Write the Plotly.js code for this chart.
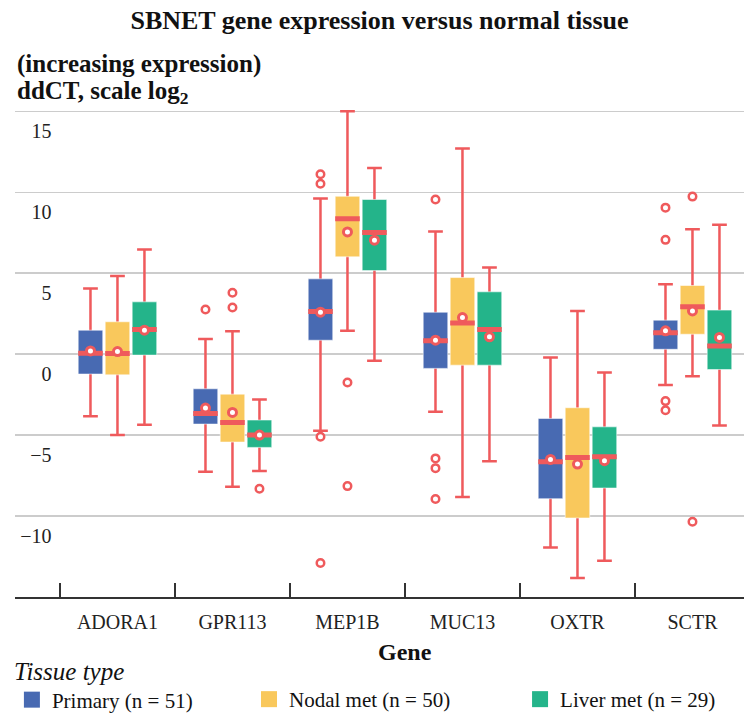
<!DOCTYPE html>
<html>
<head>
<meta charset="utf-8">
<script src="https://cdn.plot.ly/plotly-3.0.1.min.js"></script>
<style>html,body{margin:0;padding:0;background:#fff;}#chart{width:744px;height:720px;}</style>
</head>
<body>
<div id="chart"></div>
<script>
// ---- data ----
const genes = ['ADORA1', 'GPR113', 'MEP1B', 'MUC13', 'OXTR', 'SCTR'];
const tissueNames = ['Primary (n = 51)', 'Nodal met (n = 50)', 'Liver met (n = 29)'];

// Primary
const primaryLower  = [-3.83, -7.26, -4.73, -3.56, -11.95, -1.91];
const primaryQ1     = [-1.23, -4.32,  0.86, -0.88,  -8.93,  0.30];
const primaryMedian = [ 0.05, -3.66,  2.63,  0.82,  -6.65,  1.32];
const primaryQ3     = [ 1.48, -2.14,  4.65,  2.59,  -3.97,  2.10];
const primaryUpper  = [ 4.06,  0.93,  9.61,  7.57,  -0.20,  4.32];
const primaryMean   = [ 0.20, -3.33,  2.59,  0.86,  -6.50,  1.44];
const primaryOutGene  = ['GPR113', 'MEP1B', 'MEP1B', 'MEP1B', 'MEP1B', 'MUC13', 'MUC13', 'MUC13', 'MUC13', 'SCTR', 'SCTR', 'SCTR', 'SCTR'];
const primaryOutValue = [2.76, 11.11, 10.53, -5.10, -12.90, 9.55, -6.44, -7.04, -8.95, 9.05, 7.06, -2.90, -3.46];

// Nodal met
const nodalLower  = [-5.00, -8.19,  1.44, -8.83, -13.83, -1.36];
const nodalQ1     = [-1.28, -5.43,  6.01, -0.68, -10.12,  1.23];
const nodalMedian = [ 0.04, -4.22,  8.37,  1.93,  -6.38,  2.92];
const nodalQ3     = [ 2.00, -2.47,  9.75,  4.73,  -3.31,  4.24];
const nodalUpper  = [ 4.83,  1.42, 15.00, 12.70,   2.67,  7.72];
const nodalMean   = [ 0.16, -3.60,  7.55,  2.26,  -6.79,  2.67];
const nodalOutGene  = ['GPR113', 'GPR113', 'MEP1B', 'MEP1B', 'SCTR', 'SCTR'];
const nodalOutValue = [3.79, 2.88, -1.75, -8.15, 9.73, -10.35];

// Liver met
const liverLower  = [-4.36, -7.22, -0.41, -6.62, -12.76, -4.40];
const liverQ1     = [-0.06, -5.76,  5.16, -0.68,  -8.27, -0.95];
const liverMedian = [ 1.52, -5.00,  7.51,  1.52,  -6.34,  0.51];
const liverQ3     = [ 3.23, -4.07,  9.55,  3.85,  -4.49,  2.72];
const liverUpper  = [ 6.46, -2.80, 11.50,  5.35,  -1.13,  8.00];
const liverMean   = [ 1.48, -5.00,  7.04,  1.07,  -6.58,  1.03];
const liverOutGene  = ['GPR113'];
const liverOutValue = [-8.31];

const yTicks = [-10, -5, 0, 5, 10, 15];

// ---- styling ----
const colors = ['#486AB2', '#F9C85C', '#24B48A'];
const red = '#EF5A5C';
const serif = 'Liberation Serif, Times New Roman, serif';

const groups = [
  {name: tissueNames[0], color: colors[0], lo: primaryLower, q1: primaryQ1, med: primaryMedian, q3: primaryQ3, hi: primaryUpper, mean: primaryMean, og: primaryOutGene, ov: primaryOutValue},
  {name: tissueNames[1], color: colors[1], lo: nodalLower, q1: nodalQ1, med: nodalMedian, q3: nodalQ3, hi: nodalUpper, mean: nodalMean, og: nodalOutGene, ov: nodalOutValue},
  {name: tissueNames[2], color: colors[2], lo: liverLower, q1: liverQ1, med: liverMedian, q3: liverQ3, hi: liverUpper, mean: liverMean, og: liverOutGene, ov: liverOutValue}
];

const traces = [];
// whiskers (drawn from median out to fences, inner part hidden by box body)
groups.forEach((g, i) => {
  traces.push({
    type: 'box', x: genes, q1: g.med, median: g.med, q3: g.med,
    lowerfence: g.lo, upperfence: g.hi,
    offsetgroup: 'g' + i, showlegend: false, hoverinfo: 'skip',
    fillcolor: 'rgba(0,0,0,0)', line: {color: red, width: 2.5}, whiskerwidth: 0.6
  });
});
// box bodies
groups.forEach((g, i) => {
  traces.push({
    type: 'box', x: genes, q1: g.q1, median: g.med, q3: g.q3,
    lowerfence: g.q1, upperfence: g.q3,
    offsetgroup: 'g' + i, showlegend: false, hoverinfo: 'skip',
    fillcolor: g.color, line: {color: 'rgba(255,255,255,0.55)', width: 1}, whiskerwidth: 0
  });
});
// medians
groups.forEach((g, i) => {
  traces.push({
    type: 'box', x: genes, q1: g.med, median: g.med, q3: g.med,
    lowerfence: g.med, upperfence: g.med,
    offsetgroup: 'g' + i, showlegend: false, hoverinfo: 'skip',
    fillcolor: 'rgba(0,0,0,0)', line: {color: red, width: 5}, whiskerwidth: 0
  });
});
// outliers
groups.forEach((g, i) => {
  traces.push({
    type: 'box', x: g.og, y: g.ov, boxpoints: 'all', jitter: 0, pointpos: 0,
    offsetgroup: 'g' + i, showlegend: false, hoverinfo: 'skip',
    fillcolor: 'rgba(0,0,0,0)', line: {color: 'rgba(0,0,0,0)', width: 0},
    marker: {symbol: 'circle', size: 7.5, color: '#ffffff', line: {color: red, width: 2.5}}
  });
});
// means
groups.forEach((g, i) => {
  traces.push({
    type: 'box', x: genes, y: g.mean, boxpoints: 'all', jitter: 0, pointpos: 0,
    offsetgroup: 'g' + i, showlegend: false, hoverinfo: 'skip',
    fillcolor: 'rgba(0,0,0,0)', line: {color: 'rgba(0,0,0,0)', width: 0},
    marker: {symbol: 'circle', size: 8, color: '#ffffff', line: {color: red, width: 3}}
  });
});
// legend entries (one legend per tissue so they can be spaced as in the reference)
const legendIds = ['legend', 'legend2', 'legend3'];
groups.forEach((g, i) => {
  traces.push({
    type: 'scatter', mode: 'markers', x: [null], y: [null], yaxis: 'y2',
    name: g.name, legend: legendIds[i],
    marker: {symbol: 'square', size: 20, color: g.color}, hoverinfo: 'skip'
  });
});

const legendFont = {family: serif, size: 21, color: '#111'};
const legendBase = {orientation: 'h', xref: 'container', yref: 'container', y: -0.007, yanchor: 'bottom', xanchor: 'left',
  font: legendFont, itemclick: false, itemdoubleclick: false, bgcolor: 'rgba(0,0,0,0)'};

const layout = {
  width: 744, height: 720,
  margin: {l: 15, r: 0, t: 110, b: 123},
  paper_bgcolor: '#ffffff', plot_bgcolor: '#ffffff',
  hovermode: false,
  font: {family: serif, color: '#111'},
  boxmode: 'group', boxgap: 0.296, boxgroupgap: 0.09,
  title: {
    text: 'SBNET gene expression versus normal tissue',
    font: {family: serif, size: 26, weight: 'bold', color: '#111'},
    x: 0.5, xref: 'paper', xanchor: 'center', y: 0.972, yref: 'container', yanchor: 'middle'
  },
  xaxis: {
    type: 'category', categoryorder: 'array', categoryarray: genes,
    range: [-0.891, 5.448], tickson: 'boundaries',
    ticks: 'inside', ticklen: 14, tickwidth: 1.5, tickcolor: '#333', ticklabelstandoff: 6,
    showline: true, linecolor: '#333', linewidth: 1.5, showgrid: false, zeroline: false,
    tickfont: {family: serif, size: 20, color: '#222'}
  },
  yaxis: {
    range: [-15, 15.08], tickvals: yTicks, showticklabels: false,
    showgrid: true, gridcolor: '#cccccc', gridwidth: 1.5, zeroline: false, showline: false, ticks: ''
  },
  yaxis2: {
    overlaying: 'y', anchor: 'free', position: 0.05, side: 'left',
    range: [-15, 15.08], tickvals: yTicks, showgrid: false, zeroline: false, showline: false, ticks: '',
    tickfont: {family: serif, size: 20, color: '#222'}, ticklabelshift: 20
  },
  showlegend: true,
  legend: Object.assign({}, legendBase, {x: 0.016,
    title: {text: 'Tissue type', side: 'top', font: {family: serif, size: 25, style: 'italic', color: '#111'}}}),
  legend2: Object.assign({}, legendBase, {x: 0.3347}),
  legend3: Object.assign({}, legendBase, {x: 0.699}),
  annotations: [
    {text: '(increasing expression)', xref: 'paper', yref: 'paper', x: 0, y: 1.0945, xanchor: 'left', yanchor: 'middle',
     showarrow: false, font: {family: serif, size: 25, weight: 'bold', color: '#111'}},
    {text: 'ddCT, scale log<sub>2</sub>', xref: 'paper', yref: 'paper', x: 0, y: 1.035, xanchor: 'left', yanchor: 'middle',
     showarrow: false, font: {family: serif, size: 25, weight: 'bold', color: '#111'}},
    {text: 'Gene', xref: 'paper', yref: 'paper', x: 0.535, y: -0.113, xanchor: 'center', yanchor: 'middle',
     showarrow: false, font: {family: serif, size: 24, weight: 'bold', color: '#111'}}
  ]
};

Plotly.newPlot('chart', traces, layout, {displayModeBar: false, staticPlot: true});
</script>
</body>
</html>
